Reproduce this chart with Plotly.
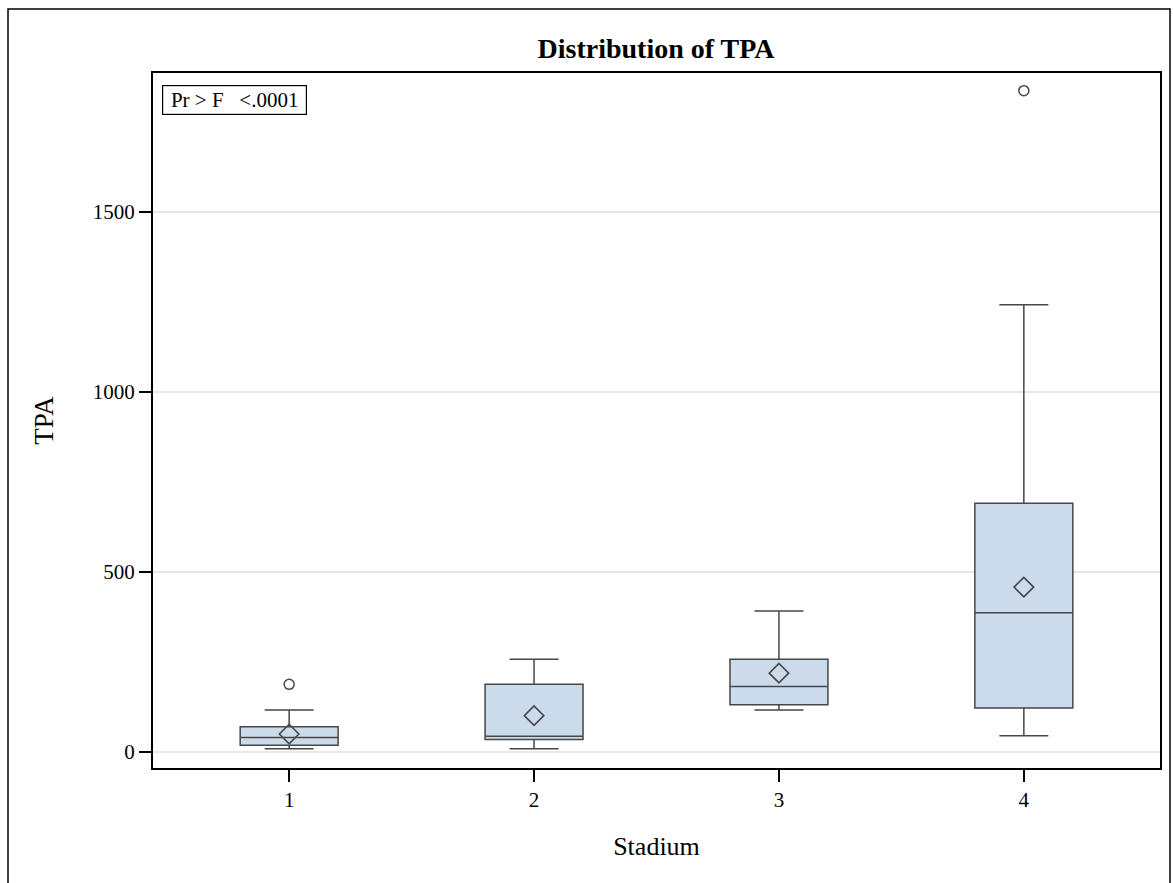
import plotly.graph_objects as go

# Summary statistics of TPA per stadium
stadium = ["1", "2", "3", "4"]
q1 = [19, 35, 131, 122]
median = [40, 44, 182, 387]
q3 = [70, 188, 258, 691]
lower_whisker = [9, 9, 117, 45]
upper_whisker = [117, 258, 392, 1242]
mean = [50, 101, 219, 458]

outlier_stadium = ["1", "4"]
outlier_tpa = [188, 1837]

y_ticks = [0, 500, 1000, 1500]

FONT = "Liberation Serif, Times New Roman, serif"
LINE = "#474747"
FILL = "#CBDBEB"

fig = go.Figure()

fig.add_trace(go.Box(
    x=stadium,
    q1=q1, median=median, q3=q3,
    lowerfence=lower_whisker, upperfence=upper_whisker,
    width=0.4, whiskerwidth=0.5,
    fillcolor=FILL,
    line=dict(color=LINE, width=1.5),
    boxpoints=False,
    showlegend=False,
    hoverinfo="skip",
))

fig.add_trace(go.Scatter(
    x=stadium, y=mean, mode="markers",
    marker=dict(symbol="diamond-open", size=15, color=LINE, line=dict(width=1.6, color=LINE)),
    showlegend=False, hoverinfo="skip",
))

fig.add_trace(go.Scatter(
    x=outlier_stadium, y=outlier_tpa, mode="markers",
    marker=dict(symbol="circle-open", size=10, color=LINE, line=dict(width=1.5, color=LINE)),
    showlegend=False, hoverinfo="skip",
))

fig.update_layout(
    width=1173, height=883,
    margin=dict(l=153, r=13, t=73, b=115),
    paper_bgcolor="white", plot_bgcolor="white",
    font=dict(family=FONT, size=21, color="black"),
    title=dict(text="<b>Distribution of TPA</b>", x=0.5593, xanchor="center",
               y=1 - 48 / 883, yanchor="middle",
               font=dict(family=FONT, size=28, color="black")),
    xaxis=dict(
        type="category", range=[-0.556, 3.556],
        showline=True, linecolor="black", linewidth=2, mirror=True,
        ticks="outside", ticklen=12, tickwidth=2, tickcolor="black",
        showgrid=False, zeroline=False,
        tickfont=dict(family=FONT, size=21),
        title=dict(text="Stadium", font=dict(family=FONT, size=26), standoff=26),
    ),
    yaxis=dict(
        range=[-44.4, 1886], tickvals=y_ticks,
        showline=True, linecolor="black", linewidth=2, mirror=True,
        ticks="outside", ticklen=12, tickwidth=2, tickcolor="black",
        showgrid=True, gridcolor="#E8E8E8", gridwidth=1.5, zeroline=False,
        tickfont=dict(family=FONT, size=21),
        title=dict(text="TPA", font=dict(family=FONT, size=27), standoff=31),
    ),
    annotations=[dict(
        text="Pr > F\u00a0\u00a0\u00a0<.0001", xref="paper", yref="paper",
        x=0.009, y=0.983, xanchor="left", yanchor="top", showarrow=False,
        font=dict(family=FONT, size=21, color="black"),
        width=141, height=26, align="center",
        bordercolor="black", borderwidth=1.2, borderpad=1, bgcolor="white",
    )],
    shapes=[dict(
        type="rect", xref="paper", yref="paper",
        x0=(8 - 153) / 1007, x1=(1170 - 153) / 1007,
        y0=(768 - 9) / 695, y1=-0.3,
        line=dict(color="black", width=1.5), layer="below",
    )],
)

fig.write_html("out.html")
